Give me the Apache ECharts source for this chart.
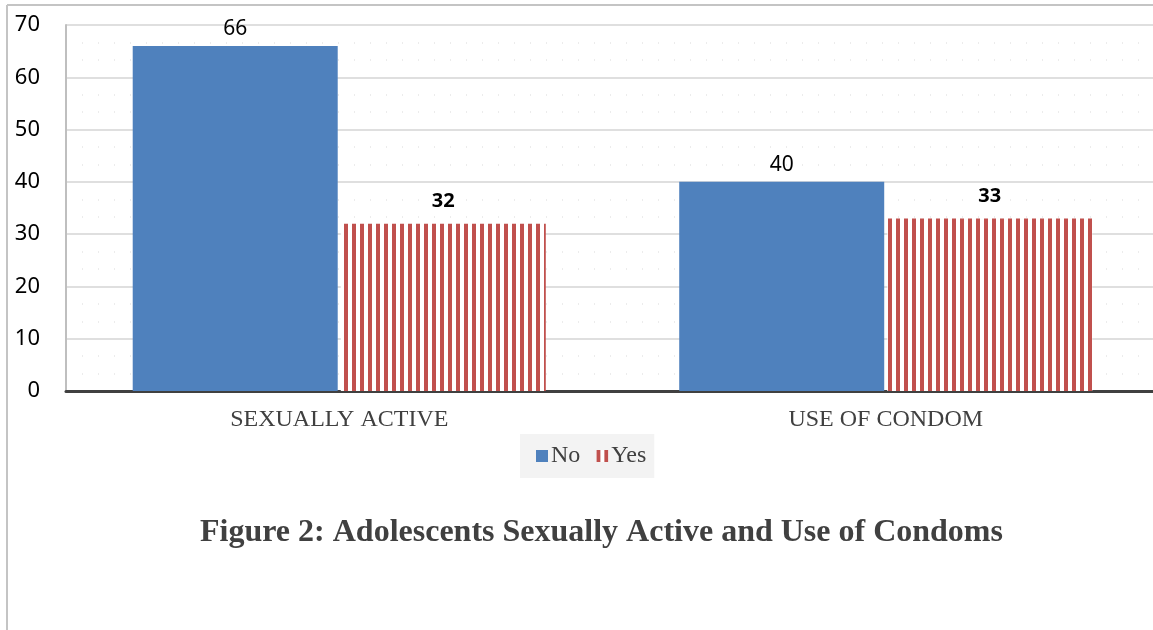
<!DOCTYPE html>
<html>
<head>
<meta charset="utf-8">
<script src="https://cdn.jsdelivr.net/npm/echarts@6/dist/echarts.min.js"></script>
<style>
  html, body { margin: 0; padding: 0; background: #ffffff; }
  #chart { width: 1153px; height: 630px; }
</style>
</head>
<body>
<div id="chart"></div>
<script>
// Survey results: adolescents who are sexually active, and condom use
const categories = ['SEXUALLY ACTIVE', 'USE OF CONDOM'];
const noValues = [66, 40];
const yesValues = [32, 33];
const yTicks = { min: 0, max: 70, interval: 10 };
const titleText = 'Figure 2: Adolescents Sexually Active and Use of Condoms';

// vertical red stripe fill for the "Yes" series
function stripePattern() {
  const c = document.createElement('canvas');
  c.width = 8; c.height = 8;
  const ctx = c.getContext('2d');
  ctx.fillStyle = '#ffffff';
  ctx.fillRect(0, 0, 8, 8);
  ctx.fillStyle = '#c0504d';
  ctx.fillRect(0, 0, 4, 8);
  return { image: c, repeat: 'repeat' };
}

const numFont = '"Noto Sans", "DejaVu Sans", sans-serif';
const serifFont = '"Liberation Serif", "DejaVu Serif", serif';

const chart = echarts.init(document.getElementById('chart'), null, { renderer: 'canvas' });
chart.setOption({
  backgroundColor: '#ffffff',
  animation: false,
  title: {
    text: titleText,
    left: 195,
    top: 512,
    textStyle: { fontFamily: serifFont, fontSize: 32, fontWeight: 'bold', color: '#404040' }
  },
  legend: {
    data: ['No', 'Yes'],
    left: 520,
    top: 434,
    padding: [10, 8, 10, 16],
    backgroundColor: '#f3f3f3',
    icon: 'rect',
    itemWidth: 12,
    itemHeight: 12,
    itemGap: 16,
    textStyle: { fontFamily: serifFont, fontSize: 24, color: '#404040', padding: [0, 0, 0, -2] }
  },
  graphic: [
    { type: 'line', shape: { x1: 7, y1: 5, x2: 7, y2: 630 }, style: { stroke: '#c4c4c4', lineWidth: 2 } },
    { type: 'line', shape: { x1: 7, y1: 5, x2: 1153, y2: 5 }, style: { stroke: '#c4c4c4', lineWidth: 2 } }
  ],
  grid: { left: 66, width: 1093, top: 25, bottom: 239, outerBoundsMode: 'none', containLabel: false },
  xAxis: {
    type: 'category',
    data: categories,
    axisLine: { show: true, lineStyle: { color: '#404040', width: 3 } },
    axisTick: { show: false },
    axisLabel: { fontFamily: serifFont, fontSize: 24, color: '#404040', margin: 17 },
    splitLine: { show: false }
  },
  yAxis: {
    type: 'value',
    min: yTicks.min,
    max: yTicks.max,
    interval: yTicks.interval,
    axisLine: { show: true, lineStyle: { color: '#bfbfbf', width: 2 } },
    axisTick: { show: false },
    axisLabel: { fontFamily: numFont, fontSize: 22, color: '#000000', margin: 26 },
    splitLine: { lineStyle: { color: '#d4d4d4', width: 1.5 } },
    minorTick: { show: false, splitNumber: 3 },
    minorSplitLine: { show: true, lineStyle: { color: '#e6e6e6', type: [1, 15], width: 1.5 } }
  },
  series: [
    {
      name: 'No',
      type: 'bar',
      data: noValues,
      barWidth: 205,
      barGap: '1.5%',
      itemStyle: { color: '#4f81bd' },
      label: {
        show: true, position: 'top', distance: 6,
        fontFamily: numFont, fontSize: 21, color: '#000000'
      }
    },
    {
      name: 'Yes',
      type: 'bar',
      data: yesValues,
      barWidth: 205,
      itemStyle: { color: stripePattern() },
      label: {
        show: true, position: 'top', distance: 12,
        fontFamily: numFont, fontSize: 20, fontWeight: 'bold', color: '#000000'
      }
    }
  ]
});
</script>
</body>
</html>
